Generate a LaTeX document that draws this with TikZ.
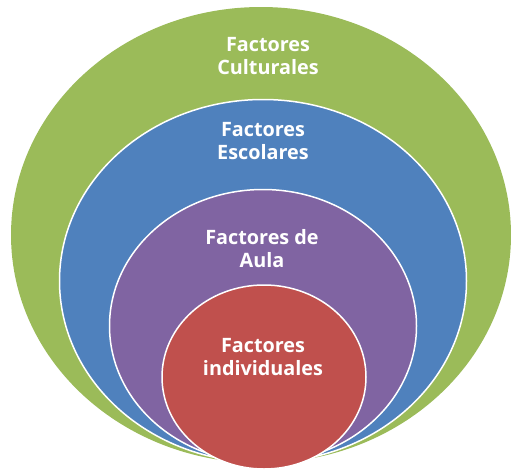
\documentclass[tikz,border=0pt]{standalone}
\usepackage{fontspec}
\setmainfont{Open Sans}
\usetikzlibrary{shapes.geometric}
\definecolor{cgreen}{HTML}{9BBB59}
\definecolor{cblue}{HTML}{4F81BD}
\definecolor{cpurple}{HTML}{8064A2}
\definecolor{cred}{HTML}{C0504D}
\tikzset{
  ring/.style={ellipse, draw=white, line width=1.5pt, inner sep=0pt},
  lbl/.style={text=white, font=\fontsize{19.8}{23}\selectfont\bfseries, align=center, inner sep=0pt}
}
\begin{document}
\begin{tikzpicture}[x=1pt,y=1pt]
\useasboundingbox (0,0) rectangle (511,-471);
\node[ring, fill=cgreen, draw=none, minimum width=500, minimum height=456] (green) at (261,-235) {};
\node[ring, fill=cblue, minimum width=407, minimum height=363] (blue) at (263,-281) {};
\node[ring, fill=cpurple, minimum width=307, minimum height=273] (purple) at (263,-326) {};
\node[ring, fill=cred, minimum width=204, minimum height=184] (red) at (264,-377) {};
\node[lbl] (t1) at (268,-56) {Factores\\Culturales};
\node[lbl] (t2) at (263,-141) {Factores\\Escolares};
\node[lbl] (t3) at (262,-249) {Factores de\\Aula};
\node[lbl] (t4) at (263,-357) {Factores\\individuales};
\end{tikzpicture}
\end{document}
